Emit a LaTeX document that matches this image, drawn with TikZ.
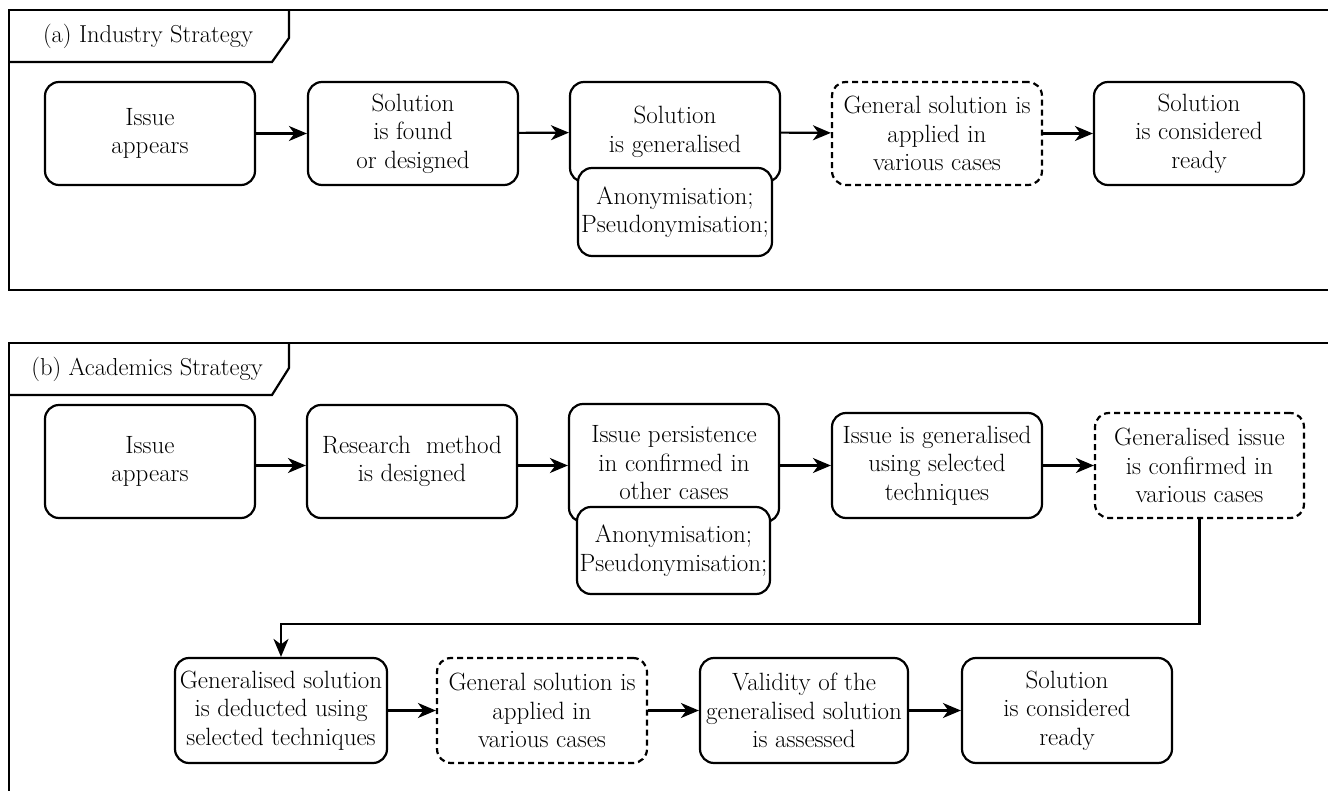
\documentclass[tikz,border=0pt]{standalone}
\usepackage{fontspec}
\usetikzlibrary{arrows.meta}
\begin{document}
\begin{tikzpicture}[x=1pt,y=-1pt,
  box/.style={draw, line width=2.2pt, rounded corners=14pt, fill=white, align=center,
    inner sep=0pt, font=\fontsize{25}{28.5}\selectfont},
  dbox/.style={box, dash pattern=on 6pt off 4pt},
  arr/.style={-{Stealth[length=18pt,width=15pt,inset=5.5pt]}, line width=2.2pt},
  frameline/.style={line width=2.2pt},
  tablabel/.style={font=\fontsize{24.5}{28.5}\selectfont, inner sep=0pt}]
\useasboundingbox (0,0) rectangle (1328,791);
\clip (0,0) rectangle (1328,791);

% frames
\draw[frameline] (1340,290) -- (9,290) -- (9,10) -- (1340,10);
\draw[frameline] (9,62) -- (272,62) -- (289,38) -- (289,10);
\node[tablabel] (ta) at (148,36) {(a) Industry Strategy};

\draw[frameline] (9,800) -- (9,343) -- (1340,343);
\draw[frameline] (9,395) -- (272,395) -- (289,368) -- (289,343);
\node[tablabel] (tb) at (147,369) {(b) Academics Strategy};

% row (a)
\node[box, minimum width=210pt, minimum height=103pt] (a1) at (150,133.5) {Issue\\appears};
\node[box, minimum width=210pt, minimum height=103pt] (a2) at (413,133.5) {Solution\\is found\\or designed};
\node[box, minimum width=210pt, minimum height=100pt] (a3) at (675,132) {Solution\\is generalised};
\node[box, minimum width=194pt, minimum height=88pt] (a3s) at (675,212) {Anonymisation;\\Pseudonymisation;};
\node[dbox, minimum width=210pt, minimum height=103pt] (a4) at (937,133.5) {General solution is\\applied in\\various cases};
\node[box, minimum width=210pt, minimum height=103pt] (a5) at (1199,133.5) {Solution\\is considered\\ready};

\draw[arr] (a1) -- (a2);
\draw[arr] (a2) -- (a3);
\draw[arr] (a3) -- (a4);
\draw[arr] (a4) -- (a5);

% row (b) first line
\node[box, minimum width=210pt, minimum height=113pt] (b1) at (150,461.5) {Issue\\appears};
\node[box, minimum width=210pt, minimum height=113pt] (b2) at (412,461.5) {Research~ method\\is designed};
\node[box, minimum width=210pt, minimum height=118pt] (b3) at (674,463) {Issue persistence\\in confirmed in\\other cases};
\node[box, minimum width=193pt, minimum height=87pt] (b3s) at (673.5,550.5) {Anonymisation;\\Pseudonymisation;};
\node[box, minimum width=210pt, minimum height=105pt] (b4) at (937,465.5) {Issue is generalised\\using selected\\techniques};
\node[dbox, minimum width=209pt, minimum height=105pt] (b5) at (1199.5,465.5) {Generalised issue\\is confirmed in\\various cases};

\draw[arr] (b1.east |- b4.west) -- (b2.west |- b4.west);
\draw[arr] (b2.east |- b4.west) -- (b3.west |- b4.west);
\draw[arr] (b3.east |- b4.west) -- (b4.west);
\draw[arr] (b4) -- (b5);

% row (b) second line
\node[box, minimum width=212pt, minimum height=105pt] (c1) at (281,710.5) {Generalised solution\\is deducted using\\selected techniques};
\node[dbox, minimum width=210pt, minimum height=105pt] (c2) at (542,710.5) {General solution is\\applied in\\various cases};
\node[box, minimum width=208pt, minimum height=105pt] (c3) at (804,710.5) {Validity of the\\generalised solution\\is assessed};
\node[box, minimum width=210pt, minimum height=105pt] (c4) at (1067,710.5) {Solution\\is considered\\ready};

\draw[arr] (b5.south) -- ++(0,105) -| (c1.north);
\draw[arr] (c1) -- (c2);
\draw[arr] (c2) -- (c3);
\draw[arr] (c3) -- (c4);
\end{tikzpicture}
\end{document}
